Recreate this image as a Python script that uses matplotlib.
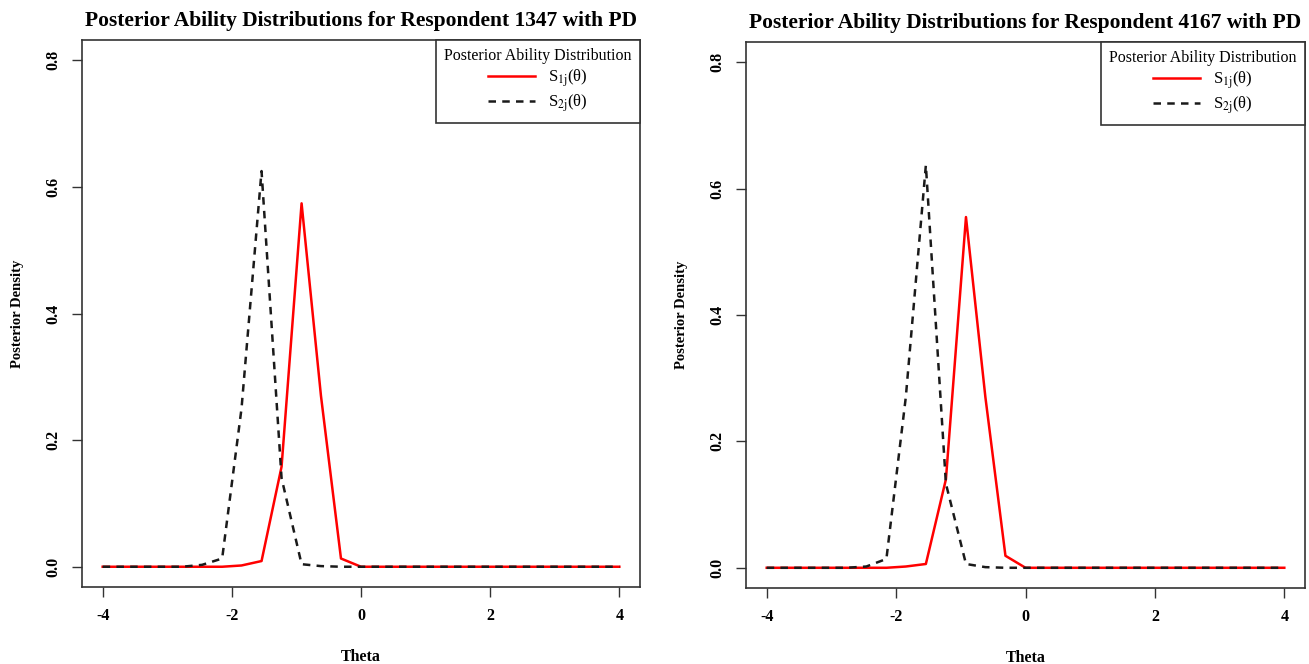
import matplotlib
matplotlib.use("Agg")
from matplotlib import pyplot as plt

plt.rcParams['font.family'] = ['Liberation Serif', 'DejaVu Serif']
plt.rcParams['mathtext.fontset'] = 'stix'
plt.rcParams['axes.unicode_minus'] = False

theta = [-4.00, -3.69, -3.38, -3.08, -2.77, -2.46, -2.15, -1.85, -1.54,
         -1.23, -0.92, -0.62, -0.31, 0.00, 0.31, 0.62, 0.92, 1.23, 1.54,
         1.85, 2.15, 2.46, 2.77, 3.08, 3.38, 3.69, 4.00]

# respondent 1347
s1_1347 = [0, 0, 0, 0, 0, 0, 0, 0.002, 0.009, 0.158, 0.574, 0.27, 0.013, 0,
           0, 0, 0, 0, 0, 0, 0, 0, 0, 0, 0, 0, 0]
s2_1347 = [0, 0, 0, 0, 0, 0.003, 0.013, 0.25, 0.625, 0.14, 0.004, 0.001, 0, 0,
           0, 0, 0, 0, 0, 0, 0, 0, 0, 0, 0, 0, 0]

# respondent 4167
s1_4167 = [0, 0, 0, 0, 0, 0, 0, 0.002, 0.006, 0.14, 0.555, 0.27, 0.019, 0,
           0, 0, 0, 0, 0, 0, 0, 0, 0, 0, 0, 0, 0]
s2_4167 = [0, 0, 0, 0, 0, 0.002, 0.014, 0.27, 0.637, 0.133, 0.006, 0.001, 0, 0,
           0, 0, 0, 0, 0, 0, 0, 0, 0, 0, 0, 0, 0]

respondents = ["1347", "4167"]
series = [(s1_1347, s2_1347), (s1_4167, s2_4167)]

W, H = 1309, 664
fig = plt.figure(figsize=(W / 100, H / 100), dpi=100)

boxes = [(82, 40, 640, 587), (746, 42, 1305, 588)]

for (x0, y0, x1, y1), resp, (s1, s2) in zip(boxes, respondents, series):
    ax = fig.add_axes([x0 / W, 1 - y1 / H, (x1 - x0) / W, (y1 - y0) / H])
    ax.plot(theta, s1, color="#ff0000", lw=1.8, label=r"S$_{\mathrm{1j}}$(θ)")
    ax.plot(theta, s2, color="#1a1a1a", lw=1.8, dashes=(3, 2.5),
            label=r"S$_{\mathrm{2j}}$(θ)")
    ax.set_xlim(-4.32, 4.32)
    ax.set_ylim(-0.032, 0.832)
    ax.set_xticks([-4, -2, 0, 2, 4])
    ax.set_yticks([0.0, 0.2, 0.4, 0.6, 0.8])
    ax.set_yticklabels(["0.0", "0.2", "0.4", "0.6", "0.8"], rotation=90,
                       va="center")
    ax.tick_params(direction="out", length=7, width=1, color="#333333",
                   labelsize=11.5, pad=8)
    for lab in ax.get_xticklabels() + ax.get_yticklabels():
        lab.set_fontweight("bold")
    for sp in ax.spines.values():
        sp.set_color("#333333")
        sp.set_linewidth(1.2)
    ax.set_xlabel("Theta", fontsize=11.5, fontweight="bold", labelpad=18)
    ax.set_ylabel("Posterior Density", fontsize=10.5, fontweight="bold",
                  labelpad=15)
    ax.set_title("Posterior Ability Distributions for Respondent %s with PD" % resp,
                 fontsize=15.5, fontweight="bold", pad=10)
    leg = ax.legend(loc="upper right", borderaxespad=0, fancybox=False,
                    edgecolor="#333333", framealpha=1,
                    title="Posterior Ability Distribution",
                    fontsize=12, title_fontsize=11.5, handlelength=2.8,
                    borderpad=0.5, labelspacing=0.2)
    leg.get_frame().set_linewidth(1.2)

fig.savefig("out.png", dpi=100)
